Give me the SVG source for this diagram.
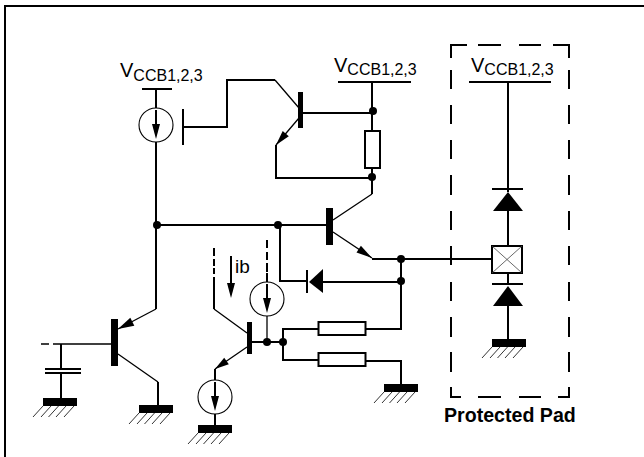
<svg xmlns="http://www.w3.org/2000/svg" width="644" height="457" viewBox="0 0 644 457">
<style>
.w{fill:none;stroke:#000;stroke-width:2}
.t{fill:none;stroke:#000;stroke-width:1.3}
.h{stroke:#000;stroke-width:.8;fill:none}
.b{fill:#000;stroke:none}
.r{fill:#fff;stroke:#000;stroke-width:2}
.c{fill:#fff;stroke:#000;stroke-width:1.1}
text{font-family:"Liberation Sans",Arial,sans-serif;fill:#000}
.v{font-size:20px}.s{font-size:16px}
</style>
<defs>
<g id="gnd"><rect class="b" x="0" y="0" width="34" height="8"/><path class="h" d="M0 8l-10 11M8 8l-10 11M15.500 8l-10 11M23 8l-10 11M31 8l-10 11"/></g>
<g id="cs"><circle class="c" cx="0" cy="0" r="17"/><path class="w" d="M0-15V0"/><path class="b" d="M-4-1H4L0 14Z"/></g>
</defs>
<path id="frame" class="w" d="M5 457V6H644"/>
<g id="connectors">
<path class="w" d="M156 89V108M156 142V309M156 225H326"/>
<path class="w" d="M183 127H227V80H275"/>
<path class="t" d="M275 80L299 108M299 118L276 145M333 220L372 194M333 232L372 258M118 354L158 382M214 309L247 333M247 347L215 369"/>
<path class="t" d="M156 309L118 329"/>
<path class="w" d="M276 145V178H372M303 113H372M372 82V131M372 168V194"/>
<path class="w" d="M372 259H492"/>
<path class="w" d="M401 259V329H366M401 282H322M280 225V281H307"/>
<path class="w" d="M158 382V405"/>
<path class="t" d="M41 344H49M53 344H111" stroke="#222"/>
<path class="w" d="M61 344V369M61 373V398"/>
<path class="w" d="M214 248V256M214 259V266M214 268V274M214 277V309"/>
<path class="w" d="M215 369V380M215 414V425"/>
<path class="w" d="M267 240V248M267 252V260M267 263V272M267 273V283"/>
<path class="t" d="M267 316V342"/>
<path class="w" d="M252 342H283M283 342V329H318M283 342V360H318M366 361H401V384"/>
<path class="w" d="M508 82V192M508 211V246M508 273V284M508 306V339"/>
<path class="w" d="M231 256V284"/>
<path class="b" d="M227 283H235L231 298Z"/>
</g>
<g id="pad-box">
<path class="w" d="M451 58V45H467M478 45H501M519 45H541M553 45H569V58M451 70V89M451 105V124M451 140V159M451 175V195M451 211V230M451 246V265M451 282V301M451 317V337M451 352V372M451 387V397H461M478 397H501M519 397H541M558 397H569V387M569 70V89M569 105V124M569 140V159M569 175V195M569 211V230M569 246V265M569 282V301M569 317V337M569 352V372"/>
</g>
<g id="t1"><rect class="b" x="298" y="92" width="5" height="36"/><path class="b" d="M276 145L288.800 136.200L282.700 131Z"/><path class="w" d="M183 109V145"/></g>
<g id="t2"><rect class="b" x="326" y="208" width="7" height="37"/><path class="b" d="M372 258L360.900 245.800L356.500 252.400Z"/></g>
<g id="t3"><rect class="b" x="111" y="319" width="7" height="47"/><path class="b" d="M118 329L134.300 325.800L130.300 317.800Z"/></g>
<g id="t4"><rect class="b" x="247" y="322" width="5" height="32"/><path class="b" d="M215 369L228.800 364.300L224.200 357.700Z"/></g>
<g id="supply-1"><path class="w" d="M142 89H172"/></g>
<g id="supply-2"><path class="w" d="M338 82H411"/></g>
<g id="supply-3"><path class="w" d="M469 82H551"/></g>
<g id="cs1"><use href="#cs" x="156" y="125"/></g>
<g id="cs2"><use href="#cs" x="267" y="299"/></g>
<g id="cs3"><use href="#cs" x="215" y="397"/></g>
<g id="r1"><rect class="r" x="365" y="131" width="15" height="37"/></g>
<g id="r2"><rect class="r" x="318.500" y="322" width="47" height="13"/></g>
<g id="r3"><rect class="r" x="318.500" y="353" width="47" height="13"/></g>
<g id="d1"><path class="b" d="M309 282L323 269V293Z"/><path class="w" d="M307 270V293"/></g>
<g id="d2"><path class="b" d="M508 192L493 211H523Z"/><path class="w" d="M492 189H523"/></g>
<g id="d3"><path class="b" d="M508 286L493 306H523Z"/><path class="w" d="M492 284H523"/></g>
<g id="pad"><rect class="r" x="492" y="246" width="30" height="27"/><path d="M492 246L522 273M522 246L492 273" stroke="#444" stroke-width=".8"/></g>
<g id="cap"><path class="w" d="M45 369H81M45 373H81"/></g>
<g id="grounds">
<use href="#gnd" x="43" y="398"/><use href="#gnd" x="139" y="405"/><use href="#gnd" x="198" y="425"/><use href="#gnd" x="384" y="384"/><use href="#gnd" x="492" y="339"/>
</g>
<g id="dots"><circle class="b" cx="157" cy="225" r="4"/><circle class="b" cx="278" cy="225" r="4"/><circle class="b" cx="373" cy="111" r="4"/><circle class="b" cx="372" cy="177" r="4"/><circle class="b" cx="401" cy="259" r="4"/><circle class="b" cx="401" cy="281" r="4"/><circle class="b" cx="267" cy="342" r="4"/><circle class="b" cx="283" cy="342" r="4"/></g>
<g id="labels">
<text x="120" y="77" class="v">V<tspan class="s" dy="4">CCB1,2,3</tspan></text>
<text x="334" y="72" class="v">V<tspan class="s" dy="3">CCB1,2,3</tspan></text>
<text x="471" y="72" class="v">V<tspan class="s" dy="3">CCB1,2,3</tspan></text>
<text x="235" y="273" font-size="19">ib</text>
<text x="444" y="422" font-size="19.600" font-weight="bold">Protected Pad</text>
</g>
</svg>
